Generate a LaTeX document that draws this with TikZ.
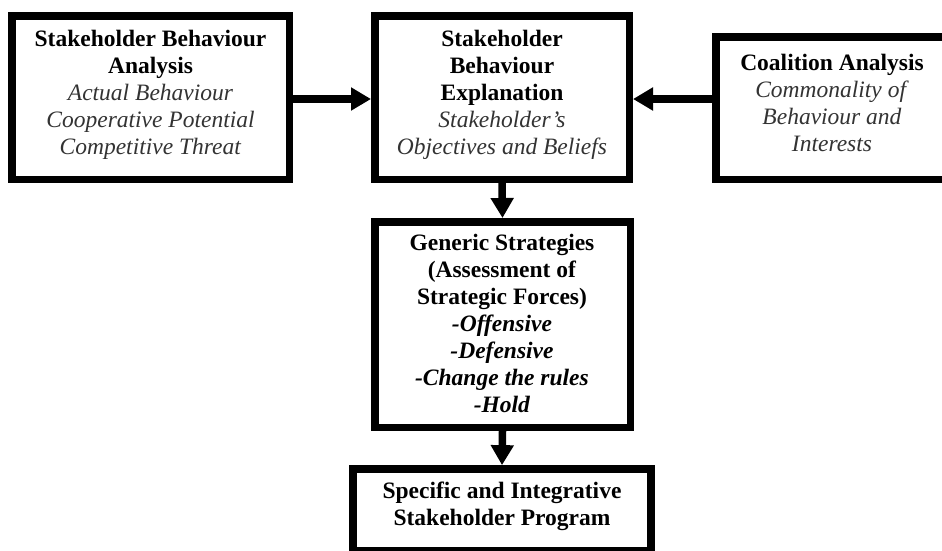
\documentclass[tikz,border=0pt]{standalone}
\usepackage{fontspec}
\setmainfont{Liberation Serif}
\usetikzlibrary{arrows.meta}
\definecolor{itc}{gray}{0.2}
\newcommand\itx[1]{\textcolor{itc}{\textit{#1}}}
\begin{document}
\begin{tikzpicture}[x=1pt,y=-1pt,
  box/.style={draw=black,line width=7.5pt,inner sep=0pt,fill=white},
  txt/.style={align=center,inner sep=0pt,font=\fontsize{23.5}{27}\selectfont},
  arr/.style={line width=7.5pt,-{Triangle[width=22pt,length=20pt]}}]
\useasboundingbox (0,0) rectangle (942,550);
\clip (0,0) rectangle (942,550);
\node[box,minimum width=277.5pt,minimum height=163.5pt] (b1) at (150.5,97.5) {};
\node[box,minimum width=254.5pt,minimum height=163.5pt] (b2) at (502,97.5) {};
\node[box,minimum width=234.25pt,minimum height=142.5pt] (b3) at (833,108) {};
\node[box,minimum width=255.5pt,minimum height=205.5pt] (b4) at (502.5,324.5) {};
\node[box,minimum width=298.25pt,minimum height=82.25pt] (b5) at (502,510) {};
\node[txt] (t1) at (150.5,95) {\textbf{Stakeholder Behaviour}\\\textbf{Analysis}\\\itx{Actual Behaviour}\\\itx{Cooperative Potential}\\\itx{Competitive Threat}};
\node[txt] (t2) at (502,95) {\textbf{Stakeholder}\\\textbf{Behaviour}\\\textbf{Explanation}\\\itx{Stakeholder’s}\\\itx{Objectives and Beliefs}};
\node[txt] (t3) at (832,103) {\textbf{Coalition Analysis}\\\itx{Commonality of}\\\itx{Behaviour and}\\\itx{Interests}};
\node[txt] (t4) at (502,323) {\textbf{Generic Strategies}\\\textbf{(Assessment of}\\\textbf{Strategic Forces)}\\\textit{\textbf{-Offensive}}\\\textit{\textbf{-Defensive}}\\\textit{\textbf{-Change the rules}}\\\textit{\textbf{-Hold}}};
\node[txt] (t5) at (502,506) {\textbf{Specific and Integrative}\\\textbf{Stakeholder Program}};
\draw[arr] (b1.east |- 0,99) -- (b2.west |- 0,99);
\draw[arr] (b3.west |- 0,99) -- (b2.east |- 0,99);
\draw[arr] (b2.south) -- (b4.north);
\draw[arr] (b4.south) -- (b5.north);
\end{tikzpicture}
\end{document}
